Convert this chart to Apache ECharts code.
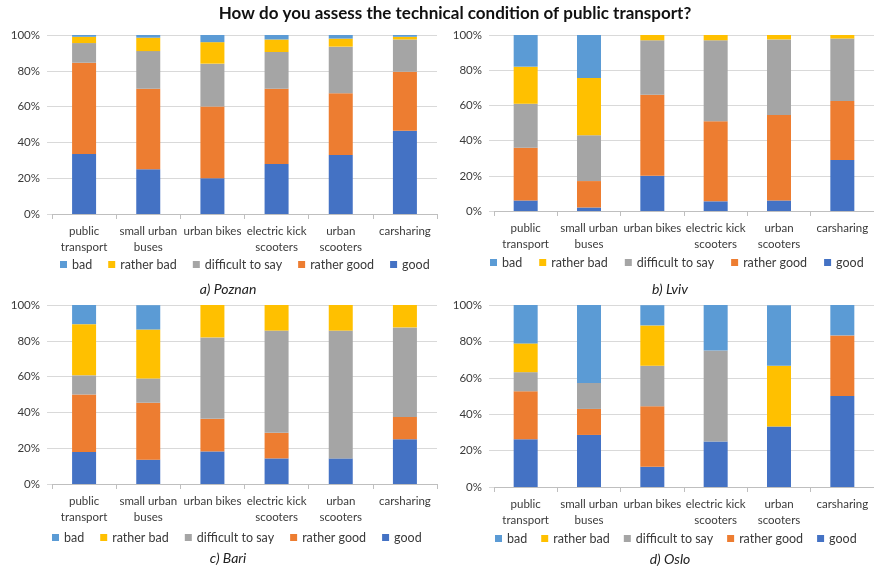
<!DOCTYPE html>
<html>
<head>
<meta charset="utf-8">
<script src="https://cdn.jsdelivr.net/npm/echarts@6/dist/echarts.min.js"></script>
<style>
  html, body { margin: 0; padding: 0; background: #fff; }
  #chart { width: 874px; height: 566px; }
</style>
</head>
<body>
<div id="chart"></div>
<script>
// Categories and response levels
const categories = ['public\ntransport', 'small urban\nbuses', 'urban bikes', 'electric kick\nscooters', 'urban\nscooters', 'carsharing'];
const levels = ['bad', 'rather bad', 'difficult to say', 'rather good', 'good'];
const yTicks = [0, 20, 40, 60, 80, 100];

// Shares of answers (%) per city, one array per response level
const poznanGood       = [33.5, 25, 20, 28, 33, 46.5];
const poznanRatherGood = [51, 45, 40, 42, 34.5, 33];
const poznanDifficult  = [11, 21, 24, 20.5, 26, 18];
const poznanRatherBad  = [3.5, 7.5, 12, 7, 4.5, 1.5];
const poznanBad        = [1, 1.5, 4, 2.5, 2, 1];

const lvivGood       = [6, 2, 20, 5.5, 6, 29];
const lvivRatherGood = [30, 15, 46, 45.5, 48.5, 33.5];
const lvivDifficult  = [25, 26, 31, 46, 43, 35.5];
const lvivRatherBad  = [21, 32.5, 3, 3, 2.5, 2];
const lvivBad        = [18, 24.5, 0, 0, 0, 0];

const bariGood       = [17.9, 13.6, 18.2, 14.3, 14.3, 25];
const bariRatherGood = [32.1, 31.8, 18.2, 14.3, 0, 12.5];
const bariDifficult  = [10.7, 13.6, 45.5, 57.1, 71.4, 50];
const bariRatherBad  = [28.6, 27.3, 18.2, 14.3, 14.3, 12.5];
const bariBad        = [10.7, 13.6, 0, 0, 0, 0];

const osloGood       = [26.3, 28.6, 11.1, 25, 33.3, 50];
const osloRatherGood = [26.3, 14.3, 33.3, 0, 0, 33.3];
const osloDifficult  = [10.5, 14.3, 22.2, 50, 0, 0];
const osloRatherBad  = [15.8, 0, 22.2, 0, 33.3, 0];
const osloBad        = [21.1, 42.9, 11.1, 25, 33.3, 16.7];

const panelTitles = ['a) Poznan', 'b) Lviv', 'c) Bari', 'd) Oslo'];

// Assemble the stacks (bottom to top: good ... bad)
const cityStacks = [
  [poznanGood, poznanRatherGood, poznanDifficult, poznanRatherBad, poznanBad],
  [lvivGood, lvivRatherGood, lvivDifficult, lvivRatherBad, lvivBad],
  [bariGood, bariRatherGood, bariDifficult, bariRatherBad, bariBad],
  [osloGood, osloRatherGood, osloDifficult, osloRatherBad, osloBad]
];
const stackNames = ['good', 'rather good', 'difficult to say', 'rather bad', 'bad'];
const colors = {
  'good': '#4472C4',
  'rather good': '#ED7D31',
  'difficult to say': '#A5A5A5',
  'rather bad': '#FFC000',
  'bad': '#5B9BD5'
};

const FONT = 'Lato, "Open Sans", sans-serif';

// Panel geometry
const grids = [
  { left: 52,  top: 35,  width: 385, height: 179 },
  { left: 494, top: 35,  width: 384, height: 176 },
  { left: 52,  top: 305, width: 385, height: 179 },
  { left: 494, top: 305, width: 384, height: 182 }
];
const legendTops = [253, 251, 526, 527];
const legendLefts = [55, 485, 47, 490];
const legendGaps = [16, 17, 16, 14];
const subtitlePos = [
  { x: 223, y: 277 }, { x: 665, y: 277 },
  { x: 223, y: 546 }, { x: 665, y: 547 }
];

const xAxes = grids.map((g, i) => ({
  type: 'category',
  gridIndex: i,
  data: categories,
  axisLine: { show: true, lineStyle: { color: '#bfbfbf', width: 1 } },
  axisTick: { show: true, length: 5, lineStyle: { color: '#bfbfbf' } },
  axisLabel: {
    color: '#3a3a3a', fontFamily: FONT, fontSize: 11.5,
    lineHeight: 16, margin: 9, interval: 0
  }
}));

const yAxes = grids.map((g, i) => ({
  type: 'value',
  gridIndex: i,
  min: yTicks[0],
  max: yTicks[yTicks.length - 1],
  interval: 20,
  axisLine: { show: false },
  axisTick: { show: true, length: 5, lineStyle: { color: '#d9d9d9' } },
  splitLine: { show: true, lineStyle: { color: '#d9d9d9', width: 1 } },
  axisLabel: {
    color: '#3a3a3a', fontFamily: FONT, fontSize: 11.5, margin: 12,
    formatter: '{value}%'
  }
}));

const series = [];
cityStacks.forEach((stack, i) => {
  stack.forEach((values, k) => {
    const name = stackNames[k];
    series.push({
      type: 'bar',
      name: name,
      xAxisIndex: i,
      yAxisIndex: i,
      stack: 'city' + i,
      barWidth: 24,
      data: values,
      itemStyle: { color: colors[name] },
      emphasis: { disabled: true }
    });
  });
});

const legends = grids.map((g, i) => ({
  data: levels,
  left: legendLefts[i],
  top: legendTops[i],
  width: 420,
  itemWidth: 7,
  itemHeight: 7,
  itemGap: legendGaps[i],
  icon: 'rect',
  selectedMode: false,
  textStyle: { color: '#3a3a3a', fontFamily: FONT, fontSize: 12.5 }
}));

const titles = [{
  text: 'How do you assess the technical condition of public transport?',
  left: 450,
  top: 0,
  textAlign: 'center',
  textStyle: { fontFamily: FONT, fontWeight: 'bold', fontSize: 17, color: '#111' }
}].concat(panelTitles.map((t, i) => ({
  text: t,
  left: subtitlePos[i].x,
  top: subtitlePos[i].y,
  textAlign: 'center',
  textStyle: { fontFamily: FONT, fontStyle: 'italic', fontWeight: 'normal', fontSize: 14, color: '#222' }
})));

const chart = echarts.init(document.getElementById('chart'), null, { renderer: 'canvas' });
chart.setOption({
  animation: false,
  backgroundColor: '#fff',
  title: titles,
  legend: legends,
  grid: grids,
  xAxis: xAxes,
  yAxis: yAxes,
  series: series
});
</script>
</body>
</html>
